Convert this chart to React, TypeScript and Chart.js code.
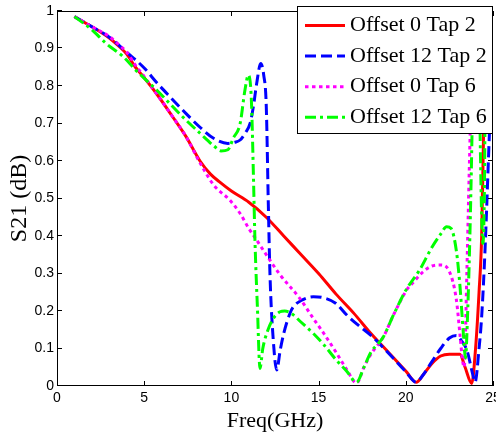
import React, { useEffect, useRef } from 'react';
import { Chart, registerables } from 'chart.js';

Chart.register(...registerables);

const seriesNames = ['Offset 0 Tap 2', 'Offset 12 Tap 2', 'Offset 0 Tap 6', 'Offset 12 Tap 6'];

const xTicks = [0, 5, 10, 15, 20, 25];
const xTickLabels = ['0', '5', '10', '15', '20', '25'];
const yTicks = [0, 0.1, 0.2, 0.3, 0.4, 0.5, 0.6, 0.7, 0.8, 0.9, 1];
const yTickLabels = ['0', '0.1', '0.2', '0.3', '0.4', '0.5', '0.6', '0.7', '0.8', '0.9', '1'];

// Offset 0 Tap 2 (red)
const redX = [1, 2, 3, 3.5, 4, 4.5, 5, 5.7, 6.6, 7.4, 8.2, 8.8, 9.3, 10, 11, 12, 13, 14, 15, 16, 17, 18, 19, 20, 20.6, 21, 21.5, 22, 22.5, 23.1, 23.4, 23.78, 24.0, 24.2, 24.35, 24.45, 24.55, 24.65];
const redY = [0.985, 0.958, 0.928, 0.908, 0.885, 0.85, 0.822, 0.78, 0.72, 0.665, 0.6, 0.565, 0.545, 0.52, 0.49, 0.45, 0.4, 0.35, 0.3, 0.245, 0.195, 0.14, 0.09, 0.04, 0.01, 0.03, 0.06, 0.08, 0.085, 0.085, 0.05, 0.007, 0.1, 0.25, 0.4, 0.65, 0.9, 1.05];

// Offset 12 Tap 2 (blue)
const blueX = [1, 2, 3, 4, 5, 5.7, 6.5, 7.2, 8.2, 9, 9.8, 10.2, 10.5, 10.8, 11.07, 11.26, 11.45, 11.68, 11.85, 12.0, 12.12, 12.21, 12.4, 12.6, 12.8, 13.0, 13.36, 13.55, 14, 14.7, 15.3, 16, 16.6, 17.2, 18, 19, 20, 20.6, 21, 21.5, 22, 22.5, 22.9, 23.2, 23.5, 23.87, 23.97, 24.2, 24.35, 24.54, 24.8, 25];
const blueY = [0.985, 0.958, 0.93, 0.89, 0.848, 0.81, 0.77, 0.736, 0.69, 0.66, 0.647, 0.65, 0.656, 0.675, 0.7, 0.745, 0.807, 0.86, 0.83, 0.745, 0.478, 0.3, 0.123, 0.043, 0.096, 0.14, 0.194, 0.211, 0.228, 0.238, 0.235, 0.22, 0.19, 0.165, 0.135, 0.088, 0.038, 0.01, 0.03, 0.065, 0.1, 0.128, 0.135, 0.12, 0.096, 0.025, 0.01, 0.1, 0.185, 0.36, 0.68, 0.9];

// Offset 0 Tap 6 (magenta)
const magX = [1, 2, 3, 3.5, 4, 4.5, 5, 5.7, 6.6, 7.4, 8.2, 9, 9.9, 10.5, 11, 11.45, 12, 12.8, 13.9, 14.7, 15.3, 16, 16.6, 17.18, 17.6, 18, 18.7, 19.3, 20.05, 20.5, 21, 21.5, 22, 22.5, 22.9, 23.1, 23.25, 23.35, 23.5, 23.6, 23.75, 23.85];
const magY = [0.985, 0.958, 0.932, 0.912, 0.89, 0.855, 0.825, 0.78, 0.72, 0.665, 0.595, 0.535, 0.496, 0.46, 0.42, 0.389, 0.35, 0.296, 0.235, 0.18, 0.14, 0.09, 0.045, 0.008, 0.05, 0.085, 0.13, 0.19, 0.256, 0.28, 0.305, 0.32, 0.323, 0.305, 0.23, 0.14, 0.07, 0.05, 0.3, 0.5, 0.8, 1.05];

// Offset 12 Tap 6 (green)
const greenX = [1, 2, 2.8, 3.8, 4.5, 5.7, 7.2, 8.2, 9, 9.4, 9.8, 10.1, 10.5, 10.78, 10.97, 11.1, 11.16, 11.26, 11.35, 11.49, 11.64, 11.8, 12.1, 12.4, 12.79, 13.05, 13.4, 14, 14.7, 15.3, 16, 16.6, 17.18, 17.6, 18, 18.7, 19.3, 20, 20.8, 21.5, 22, 22.34, 22.6, 22.9, 23.1, 23.3, 23.42, 23.55, 23.7, 23.85, 23.95, 24.1, 24.25, 24.35, 24.42, 24.5, 24.6];
const greenY = [0.985, 0.95, 0.914, 0.878, 0.843, 0.79, 0.718, 0.674, 0.64, 0.627, 0.63, 0.66, 0.7, 0.79, 0.829, 0.8, 0.745, 0.567, 0.39, 0.211, 0.047, 0.1, 0.15, 0.18, 0.198, 0.2, 0.195, 0.17, 0.14, 0.11, 0.07, 0.04, 0.01, 0.05, 0.09, 0.13, 0.19, 0.255, 0.31, 0.37, 0.405, 0.425, 0.42, 0.36, 0.27, 0.14, 0.075, 0.2, 0.45, 0.8, 1.05, 1.1, 0.7, 0.45, 0.38, 0.5, 1.05];

const toPts = (xs: number[], ys: number[]) => xs.map((x, i) => ({ x, y: ys[i] }));

const framePlugin = {
  id: 'matlabFrame',
  afterDatasetsDraw(chart: any) {
    const { ctx, chartArea: a, scales } = chart;
    const xs = scales.x;
    const ys = scales.y;
    const L = 5;
    ctx.save();
    ctx.strokeStyle = '#000';
    ctx.lineWidth = 1;
    ctx.setLineDash([]);
    ctx.beginPath();
    xs.ticks.forEach((t: any) => {
      const px = Math.round(xs.getPixelForValue(t.value)) + 0.5;
      ctx.moveTo(px, a.bottom);
      ctx.lineTo(px, a.bottom - L);
      ctx.moveTo(px, a.top);
      ctx.lineTo(px, a.top + L);
    });
    ys.ticks.forEach((t: any) => {
      const py = Math.round(ys.getPixelForValue(t.value)) - 0.5;
      ctx.moveTo(a.left, py);
      ctx.lineTo(a.left + L, py);
      ctx.moveTo(a.right, py);
      ctx.lineTo(a.right - L, py);
    });
    ctx.stroke();
    ctx.strokeRect(a.left + 0.5, a.top + 0.5, a.right - a.left - 1, a.bottom - a.top - 1);
    ctx.restore();
  },
  afterDraw(chart: any) {
    const { ctx, chartArea: a } = chart;
    const w = 195;
    const h = 127;
    const right = a.right - 1;
    const top = a.top - 5;
    const left = right - w;
    ctx.save();
    ctx.fillStyle = '#fff';
    ctx.fillRect(left, top, w, h);
    ctx.strokeStyle = '#000';
    ctx.lineWidth = 1;
    ctx.strokeRect(left + 0.5, top + 0.5, w, h);
    chart.data.datasets.forEach((ds: any, i: number) => {
      const y = top + 19.5 + i * 30.6;
      ctx.strokeStyle = ds.borderColor;
      ctx.lineWidth = ds.borderWidth;
      ctx.setLineDash(ds.borderDash || []);
      ctx.beginPath();
      ctx.moveTo(left + 8, y);
      ctx.lineTo(left + 48, y);
      ctx.stroke();
      ctx.setLineDash([]);
      ctx.fillStyle = '#000';
      ctx.font = '22px "Liberation Serif"';
      ctx.textBaseline = 'middle';
      ctx.textAlign = 'left';
      ctx.fillText(ds.label, left + 53, y);
    });
    ctx.restore();
  },
};

export default function App() {
  const ref = useRef<HTMLCanvasElement>(null);
  useEffect(() => {
    if (!ref.current) return;
    const tickFont = { family: '"Liberation Sans", Arial, sans-serif', size: 14 };
    const chart = new Chart(ref.current, {
      type: 'line',
      data: {
        datasets: [
          { label: seriesNames[0], data: toPts(redX, redY), borderColor: '#ff0000', borderWidth: 3, order: 3 },
          { label: seriesNames[1], data: toPts(blueX, blueY), borderColor: '#0000ff', borderWidth: 3, borderDash: [11, 5], order: 2 },
          { label: seriesNames[2], data: toPts(magX, magY), borderColor: '#ff00ff', borderWidth: 3, borderDash: [3.5, 3.5], order: 1 },
          { label: seriesNames[3], data: toPts(greenX, greenY), borderColor: '#00ff00', borderWidth: 3, borderDash: [11, 4, 3, 4], order: 0 },
        ] as any,
      },
      options: {
        animation: false,
        responsive: false,
        maintainAspectRatio: false,
        layout: { padding: { top: 11, right: 3, left: 0, bottom: 0 } },
        elements: {
          point: { radius: 0, hoverRadius: 0 },
          line: { cubicInterpolationMode: 'monotone', fill: false },
        },
        datasets: { line: { clip: 0 } } as any,
        plugins: { legend: { display: false }, tooltip: { enabled: false } },
        events: [],
        scales: {
          x: {
            type: 'linear',
            min: 0,
            max: 25,
            afterBuildTicks: (s: any) => { s.ticks = xTicks.map((v) => ({ value: v })); },
            afterFit: (s: any) => { s.height = 51; s.paddingLeft = 0; s.paddingRight = 0; },
            ticks: {
              callback: (_v: any, i: number) => xTickLabels[i],
              font: tickFont,
              color: '#000',
              padding: 4,
              maxRotation: 0,
              autoSkip: false,
            },
            grid: { display: false, drawTicks: false },
            border: { display: false },
            title: {
              display: true,
              text: 'Freq(GHz)',
              color: '#000',
              font: { family: '"Liberation Serif", "Times New Roman", serif', size: 22 },
              padding: { top: 0, bottom: 3 },
            },
          },
          y: {
            type: 'linear',
            min: 0,
            max: 1,
            afterBuildTicks: (s: any) => { s.ticks = yTicks.map((v) => ({ value: v })); },
            afterFit: (s: any) => { s.width = 57; s.paddingTop = 0; s.paddingBottom = 0; },
            ticks: {
              callback: (_v: any, i: number) => yTickLabels[i],
              font: tickFont,
              color: '#000',
              padding: 3,
              autoSkip: false,
            },
            grid: { display: false, drawTicks: false },
            border: { display: false },
            title: {
              display: true,
              text: 'S21 (dB)',
              color: '#000',
              font: { family: '"Liberation Serif", "Times New Roman", serif', size: 24 },
              padding: { top: 5, bottom: 0 },
            },
          },
        },
      } as any,
      plugins: [framePlugin],
    });
    return () => chart.destroy();
  }, []);
  return (
    <div style={{ position: 'absolute', left: 0, top: 0, width: 496, height: 437, background: '#fff' }}>
      <canvas ref={ref} width={496} height={437} style={{ display: 'block', width: 496, height: 437 }} />
    </div>
  );
}
